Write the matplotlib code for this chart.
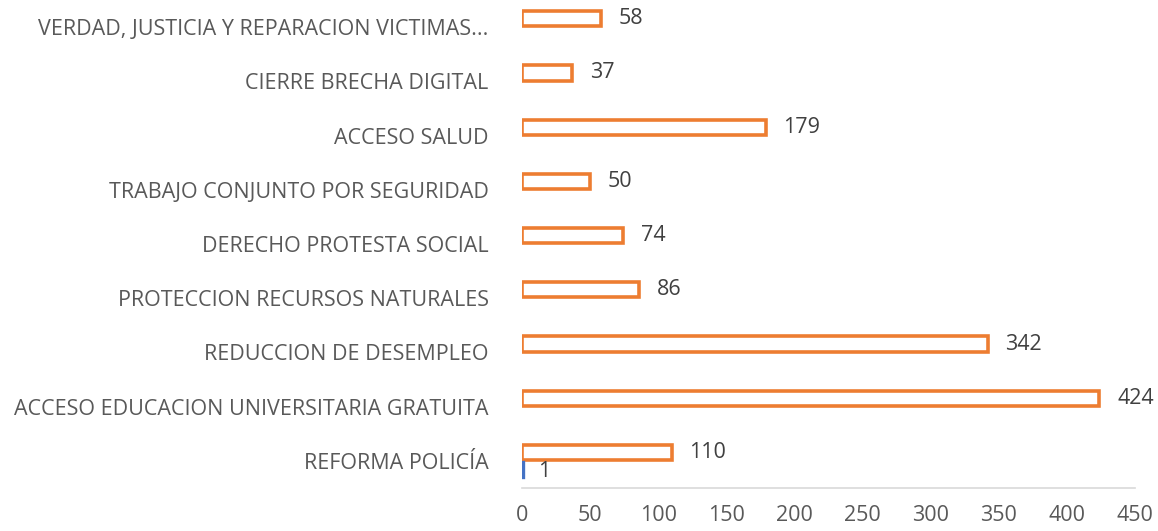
import matplotlib
matplotlib.use("Agg")
import matplotlib.pyplot as plt
import numpy as np

categories = [
    "REFORMA POLICÍA",
    "ACCESO EDUCACION UNIVERSITARIA GRATUITA",
    "REDUCCION DE DESEMPLEO",
    "PROTECCION RECURSOS NATURALES",
    "DERECHO PROTESTA SOCIAL",
    "TRABAJO CONJUNTO POR SEGURIDAD",
    "ACCESO SALUD",
    "CIERRE BRECHA DIGITAL",
    "VERDAD, JUSTICIA Y REPARACION VICTIMAS...",
]
series_blue = [1, None, None, None, None, None, None, None, None]
series_orange = [110, 424, 342, 86, 74, 50, 179, 37, 58]
xticks = [0, 50, 100, 150, 200, 250, 300, 350, 400, 450]

plt.rcParams['font.family'] = ['Open Sans', 'DejaVu Sans']

fig = plt.figure(figsize=(11.58, 5.31), dpi=100)
ax = fig.add_axes([0.4508, 0.081, 0.5292, 0.919])

y = np.arange(len(categories))
h = 0.28
off = 0.155
orange = "#ED7D31"
blue = "#4472C4"
txt = "#595959"
fs = 15.5

ax.barh(y + off, series_orange, height=h, facecolor="white", edgecolor=orange, linewidth=2.6)
for yi, v in zip(y, series_orange):
    ax.text(v + 13, yi + off, str(v), va="center", ha="left", fontsize=fs, color="#404040")
for yi, v in zip(y, series_blue):
    if v is not None:
        ax.barh(yi - off, v, height=h, color=blue, edgecolor=blue, linewidth=2.4)
        ax.text(v + 11, yi - off - 0.05, str(v), va="center", ha="left", fontsize=fs, color="#404040")

ax.set_yticks(y)
ax.set_yticklabels(categories, fontsize=fs, color=txt)
ax.set_xticks(xticks)
ax.set_xticklabels([str(t) for t in xticks], fontsize=fs, color=txt)
ax.set_xlim(0, 450)
ax.set_ylim(-0.5, len(categories) - 0.5)
ax.tick_params(axis="both", length=0)
ax.tick_params(axis="y", pad=24)
ax.tick_params(axis="x", pad=12)
for s in ["top", "right", "left"]:
    ax.spines[s].set_visible(False)
ax.spines["bottom"].set_color("#D9D9D9")
ax.spines["bottom"].set_linewidth(1.2)

fig.savefig("out.png", dpi=100)
